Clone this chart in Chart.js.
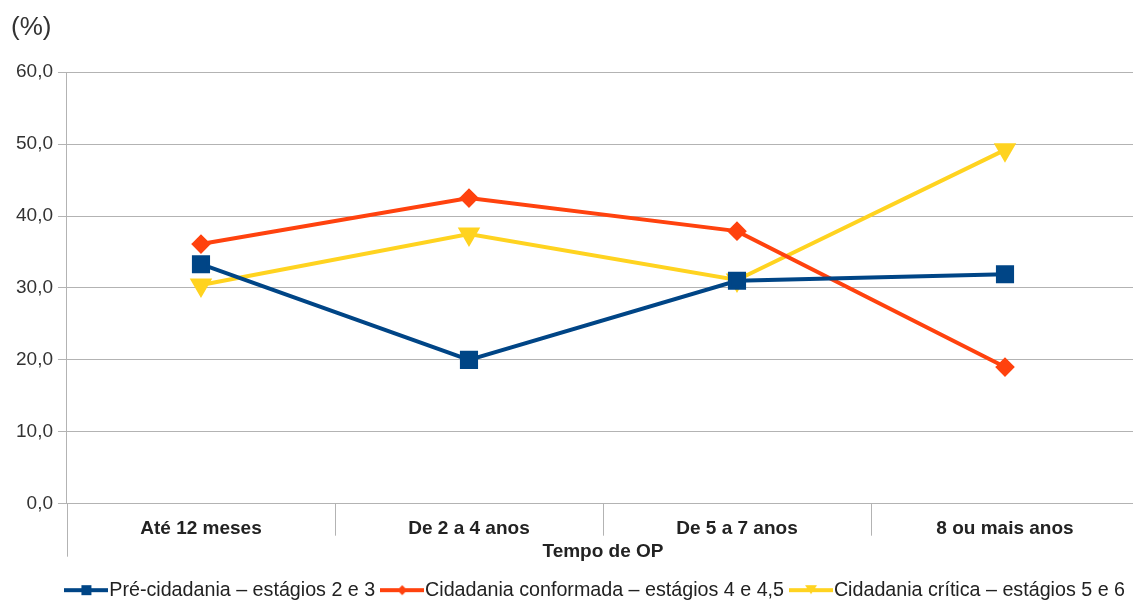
<!DOCTYPE html>
<html lang="pt">
<head>
    <meta charset="UTF-8">
    <title>Tempo de OP</title>
    <script src="https://cdn.jsdelivr.net/npm/chart.js"></script>
    <style>
        body { margin: 0; background: #fff; overflow: hidden; }
    </style>
</head>
<body>
    <canvas id="opChart" width="1153" height="610"></canvas>
    <script>
        // dados
        const categorias = ['Até 12 meses', 'De 2 a 4 anos', 'De 5 a 7 anos', '8 ou mais anos'];
        const preCidadania = [33.3, 20.0, 31.0, 31.9];
        const cidadaniaConformada = [36.1, 42.5, 37.9, 19.0];
        const cidadaniaCritica = [30.4, 37.5, 31.1, 49.2];

        const azul = '#004586', laranja = '#ff420e', amarelo = '#ffd320';
        const cinza = '#b3b3b3';

        // ícone da legenda: linha com marcador no meio
        function iconeLegenda(cor, tipo) {
            const c = document.createElement('canvas');
            c.width = 44; c.height = 14;
            const g = c.getContext('2d');
            g.strokeStyle = cor; g.fillStyle = cor; g.lineWidth = 4;
            g.beginPath(); g.moveTo(0, 7); g.lineTo(44, 7); g.stroke();
            g.beginPath();
            if (tipo === 'quad') g.rect(17, 2, 10, 10);
            else if (tipo === 'losango') { g.moveTo(22, 2); g.lineTo(27, 7); g.lineTo(22, 12); g.lineTo(17, 7); }
            else { g.moveTo(16, 2); g.lineTo(28, 2); g.lineTo(22, 11); }
            g.closePath(); g.fill();
            return c;
        }

        // separadores das categorias abaixo do eixo x
        const separadores = {
            id: 'separadores',
            afterDraw(chart) {
                const { ctx, chartArea } = chart;
                const x = chart.scales.x;
                ctx.save();
                ctx.strokeStyle = cinza;
                ctx.lineWidth = 1;
                for (let i = 0; i <= categorias.length; i++) {
                    const px = Math.round(x.getPixelForValue(i - 0.5)) + 0.5;
                    ctx.beginPath();
                    ctx.moveTo(px, chartArea.bottom);
                    ctx.lineTo(px, chartArea.bottom + (i === 0 ? 53 : 32));
                    ctx.stroke();
                }
                ctx.restore();
            }
        };

        const ctx = document.getElementById('opChart').getContext('2d');
        new Chart(ctx, {
            type: 'line',
            data: {
                labels: categorias,
                datasets: [{
                    label: 'Pré-cidadania – estágios 2 e 3',
                    data: preCidadania,
                    borderColor: azul, backgroundColor: azul,
                    borderWidth: 4, pointStyle: 'rect', pointRadius: 10, pointHoverRadius: 10
                }, {
                    label: 'Cidadania conformada – estágios 4 e 4,5',
                    data: cidadaniaConformada,
                    borderColor: laranja, backgroundColor: laranja,
                    borderWidth: 4, pointStyle: 'rectRot', pointRadius: 7, pointHoverRadius: 7
                }, {
                    label: 'Cidadania crítica – estágios 5 e 6',
                    data: cidadaniaCritica,
                    borderColor: amarelo, backgroundColor: amarelo,
                    borderWidth: 4, pointStyle: 'triangle', pointRotation: 180,
                    pointRadius: 9, pointHoverRadius: 9
                }]
            },
            options: {
                responsive: false,
                animation: false,
                layout: { padding: { left: 11, right: 14, top: 8, bottom: 0 } },
                plugins: {
                    title: {
                        display: true, text: '(%)', align: 'start',
                        color: '#333', font: { family: 'Liberation Sans', size: 26, weight: 'normal' },
                        padding: { top: 4, bottom: 29 }
                    },
                    legend: {
                        position: 'bottom',
                        align: 'end',
                        labels: {
                            usePointStyle: true,
                            pointStyleWidth: 26,
                            generateLabels(chart) {
                                const estilos = ['quad', 'losango', 'tri'];
                                return chart.data.datasets.map((d, i) => ({
                                    text: d.label, datasetIndex: i,
                                    pointStyle: iconeLegenda(d.borderColor, estilos[i]),
                                    fontColor: '#222', lineWidth: 0, hidden: false
                                }));
                            },
                            padding: 14,
                            color: '#222',
                            font: { family: 'Liberation Sans', size: 19.7 }
                        }
                    },
                    tooltip: { enabled: false }
                },
                scales: {
                    x: {
                        offset: true,
                        grid: { offset: true, drawOnChartArea: false, drawTicks: false, color: cinza },
                        border: { color: cinza },
                        ticks: {
                            color: '#222', padding: 14,
                            font: { family: 'Liberation Sans', size: 19, weight: 'bold' }
                        },
                        title: {
                            display: true, text: 'Tempo de OP', color: '#222', padding: { top: -14, bottom: 3 },
                            font: { family: 'Liberation Sans', size: 19, weight: 'bold' }
                        }
                    },
                    y: {
                        min: 0, max: 60,
                        grid: { color: cinza, tickLength: 9 },
                        border: { color: cinza },
                        ticks: {
                            stepSize: 10, color: '#333', padding: 5,
                            font: { family: 'Liberation Sans', size: 19 },
                            callback: v => v.toFixed(1).replace('.', ',')
                        }
                    }
                }
            },
            plugins: [separadores]
        });
    </script>
</body>
</html>
